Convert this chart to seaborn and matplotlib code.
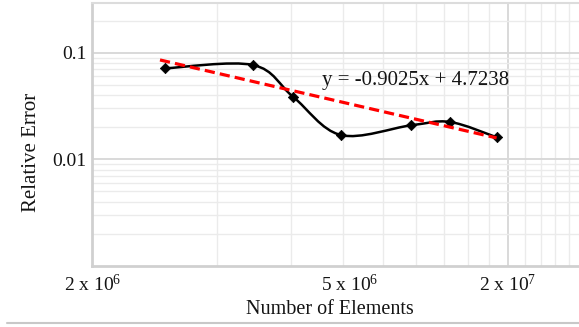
import numpy as np
import pandas as pd
import matplotlib
matplotlib.use("Agg")
import matplotlib.pyplot as plt
import seaborn as sns
from matplotlib.path import Path
from matplotlib.patches import PathPatch
from matplotlib.ticker import FixedLocator, NullFormatter

# data
elements = [2.7e6, 4.39e6, 5.48e6, 7.13e6, 1.05e7, 1.305e7, 1.69e7]
rel_error = [0.0713, 0.0765, 0.0384, 0.0169, 0.0208, 0.0224, 0.0161]

# trendline from the chart's equation (log-log fit)
trend_slope = -0.9025
trend_icpt = 4.7238
equation = "y = -0.9025x + 4.7238"

x_tick_pos = [1.8e6, 7.5e6, 1.8e7]
x_tick_labels = [r"2 x $\mathregular{10^6}$", r"5 x $\mathregular{10^6}$", r"2 x $\mathregular{10^7}$"]
y_tick_pos = [0.01, 0.1]
y_tick_labels = ["0.01", "0.1"]

sns.set_theme(style="white")
plt.rcParams["font.family"] = ["Liberation Serif", "DejaVu Serif"]
plt.rcParams["mathtext.fontset"] = "custom"
plt.rcParams["mathtext.rm"] = "Liberation Serif"
txt_col = "#141414"

df = pd.DataFrame({"elements": elements, "error": rel_error})

fig = plt.figure(figsize=(5.79, 3.27), dpi=100)
ax = fig.add_axes([0.1594, 0.1865, 0.8444, 0.8034])
ax.set_xscale("log")
ax.set_yscale("log")
ax.set_xlim(1.8e6, 2.7e7)
ax.set_ylim(0.001, 0.29)

# grid
ax.xaxis.set_minor_locator(FixedLocator(np.arange(2, 16) * 1.8e6))
ax.xaxis.set_minor_formatter(NullFormatter())
ax.yaxis.set_minor_formatter(NullFormatter())
ax.grid(True, axis="x", which="minor", color="#ebebeb", lw=1.0)
ax.grid(True, axis="y", which="minor", color="#ebebeb", lw=1.0)
ax.grid(True, axis="y", which="major", color="#d9d9d9", lw=1.4)
ax.axvline(x_tick_pos[-1], color="#d9d9d9", lw=1.4, zorder=0.5)
ax.set_axisbelow(True)

ax.set_xticks(x_tick_pos)
ax.set_xticklabels(x_tick_labels, fontsize=14, color=txt_col)
ax.set_yticks(y_tick_pos)
ax.set_yticklabels(y_tick_labels, fontsize=14, color=txt_col)
ax.tick_params(axis="both", which="both", length=0)
ax.tick_params(axis="x", pad=6)
ax.tick_params(axis="y", pad=4)

for side in ["left", "bottom"]:
    ax.spines[side].set_color("#d0d0d0")
    ax.spines[side].set_linewidth(2)
ax.spines["top"].set_color("#dcdcdc")
ax.spines["top"].set_linewidth(1.5)
ax.spines["right"].set_visible(False)

# smoothed connecting line (Excel-style bezier through the points, in log space)
lx = np.log10(elements)
ly = np.log10(rel_error)
px = np.concatenate([[lx[0]], lx, [lx[-1]]])
py = np.concatenate([[ly[0]], ly, [ly[-1]]])
verts = [(lx[0], ly[0])]
codes = [Path.MOVETO]
for i in range(1, len(px) - 2):
    c1 = (px[i] + (px[i + 1] - px[i - 1]) / 6, py[i] + (py[i + 1] - py[i - 1]) / 6)
    c2 = (px[i + 1] - (px[i + 2] - px[i]) / 6, py[i + 1] - (py[i + 2] - py[i]) / 6)
    verts += [c1, c2, (px[i + 1], py[i + 1])]
    codes += [Path.CURVE4] * 3
verts = 10 ** np.array(verts)
ax.add_patch(PathPatch(Path(verts, codes), facecolor="none", edgecolor="black",
                       lw=1.8, transform=ax.transData, zorder=3))

sns.scatterplot(data=df, x="elements", y="error", marker="D", color="black",
                s=28, edgecolor="black", linewidth=0.5, ax=ax, zorder=4)

# power-law trend line
trend = pd.DataFrame({"elements": [elements[0] * 0.97, elements[-1]]})
trend["error"] = 10 ** (trend_icpt + trend_slope * np.log10(trend["elements"]))
sns.lineplot(data=trend, x="elements", y="error", color="#ff0000", lw=2.3,
             dashes=False, ax=ax, zorder=5)
ax.lines[-1].set_dashes([3.2, 1.6])

ax.text(0.469, 0.706, equation, transform=ax.transAxes, fontsize=15,
        va="center", ha="left", color=txt_col)

ax.set_xlabel("")
ax.set_ylabel("")
fig.text(330 / 579, 1 - 309 / 327, "Number of Elements", fontsize=14.5,
         ha="center", va="center", color=txt_col)
fig.text(32 / 579, 1 - 152 / 327, "Relative Error", fontsize=15, rotation=90,
         ha="center", va="center", color=txt_col)

fig.add_artist(plt.Line2D([7 / 579, 1.0], [1 - 323 / 327] * 2, color="#c8c8c8", lw=1.5))

fig.savefig("out.png", dpi=100)
